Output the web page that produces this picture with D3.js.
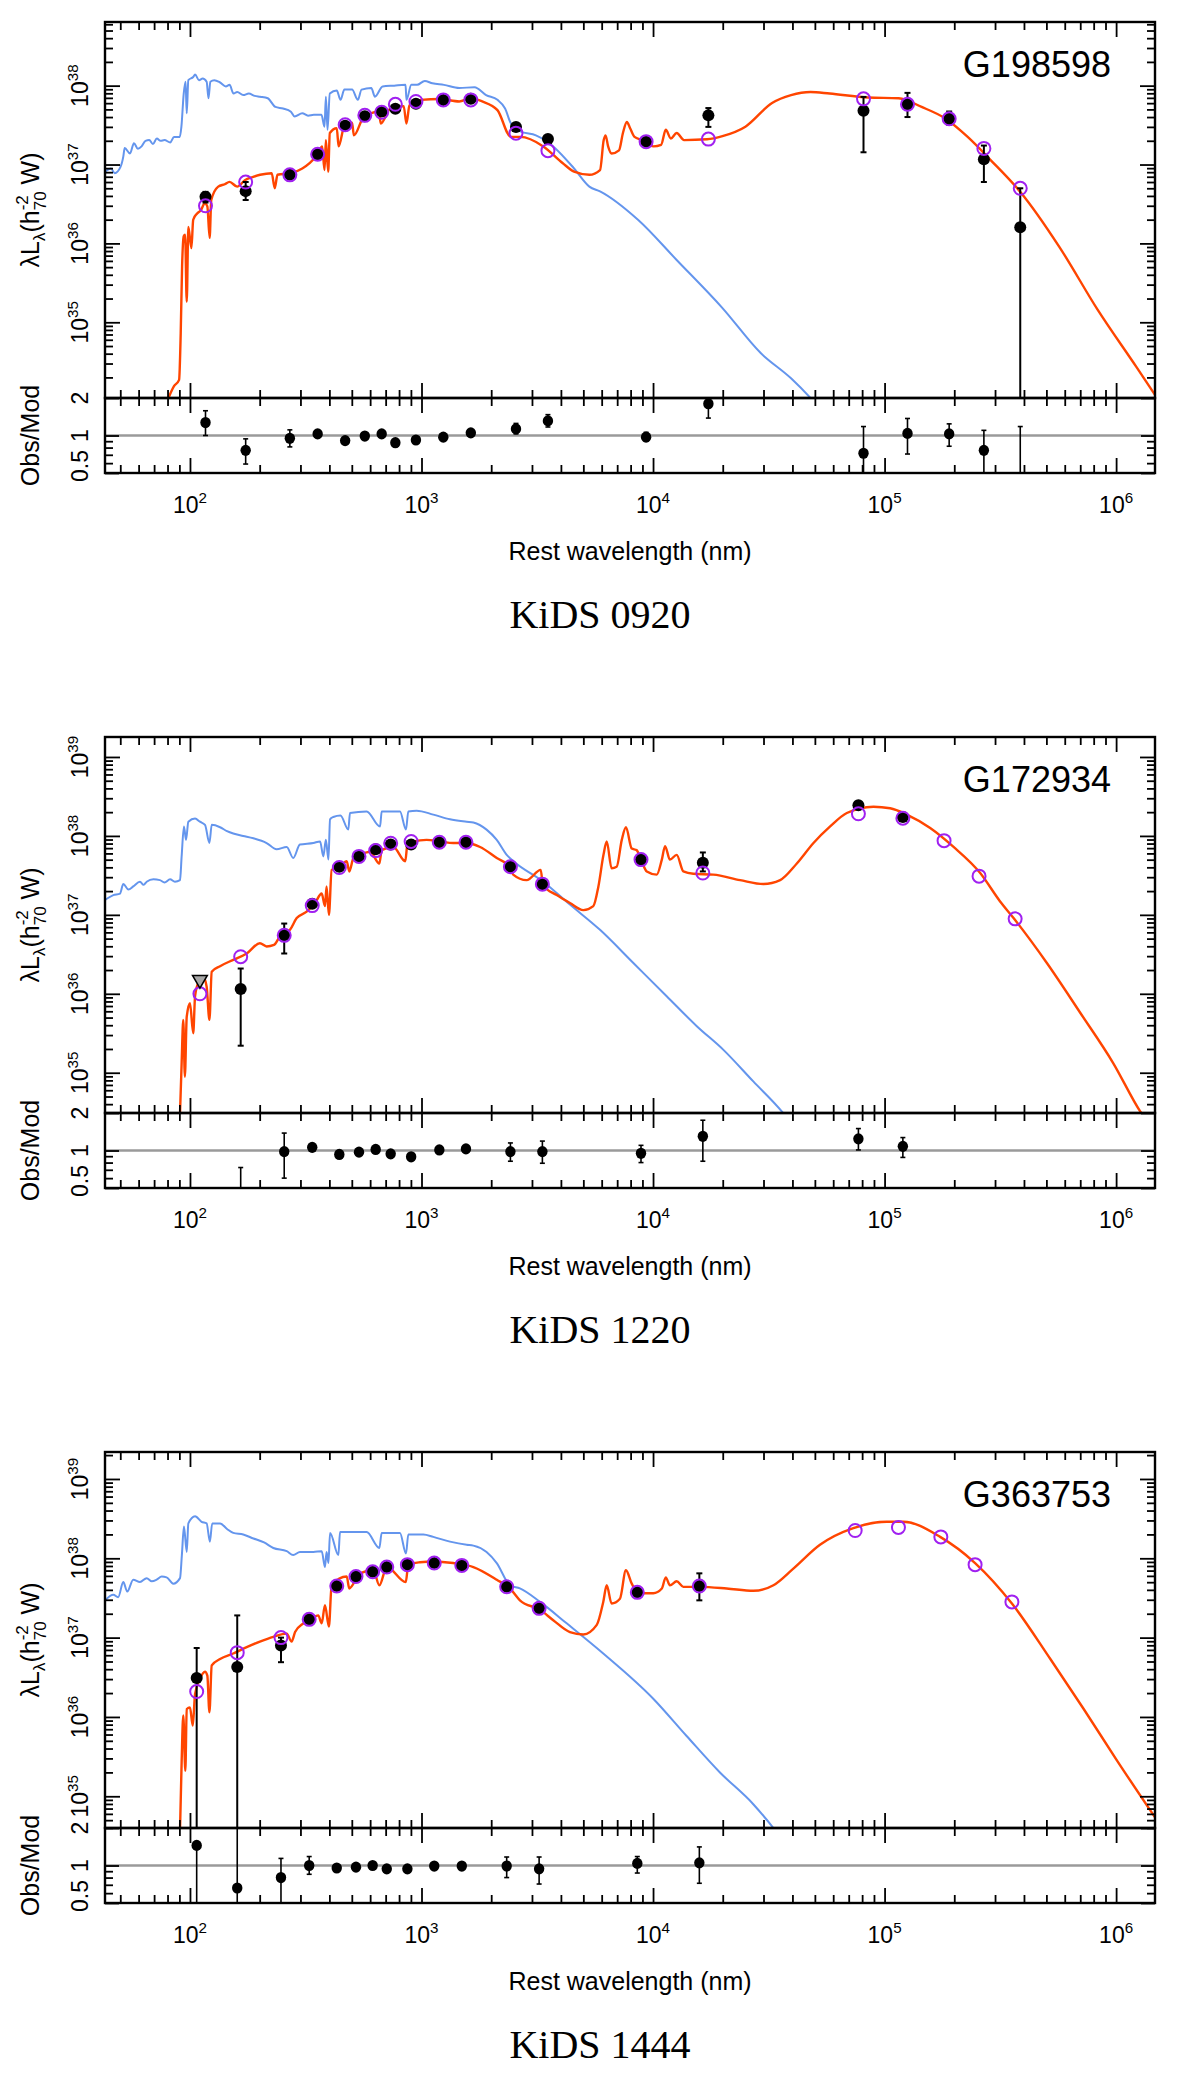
<!DOCTYPE html>
<html>
<head>
<meta charset="utf-8">
<script src="https://cdn.jsdelivr.net/npm/d3@7"></script>
<style>
  html, body { margin: 0; padding: 0; background: #fff; }
  svg { display: block; }
</style>
</head>
<body>
<svg id="chart" width="1200" height="2077"></svg>
<script>
// ------------------------------------------------------------------
// DATA
// ------------------------------------------------------------------
const galaxyIds    = ["G198598", "G172934", "G363753"];
const surveyLabels = ["KiDS 0920", "KiDS 1220", "KiDS 1444"];
const xTickExponents = [2, 3, 4, 5, 6];
const xAxisTitle = "Rest wavelength (nm)";
const ratioTitle = "Obs/Mod";
const ratioTickLabels = [[2, "2"], [1, "1"], [0.5, "0.5"]];

// Photometry: rest wavelength (nm); luminosities in units of 1e36 W (h70^-2)
// G198598
const g1Wave  = [116.7, 174, 270, 356, 468, 569, 673, 771, 946, 1242, 1633, 2559, 3516, 9333, 17340, 81100, 125600, 190100, 268500, 385500];
const g1Obs   = [3.9, 4.6, 7.4, 13.5, 31, 41, 47, 51, 59, 66, 68, 30, 21, 19.5, 42, 48, 58, 38, 11.7, 1.6];
const g1ObsErr = [[3.3,4.5],[3.55,6.0],null,null,null,null,null,null,null,null,null,null,null,null,[30,52],[14.3,72],[40,81],[32,47],[6.0,17.4],[0.001,5.0]];
const g1Model = [3.0, 6.0, 7.4, 13.5, 32, 42, 46, 58, 63, 66, 66, 25, 15, 19.5, 21, 68, 58, 38, 16, 5.0];
const g1Ratio = [1.27, 0.76, 0.95, 1.03, 0.91, 0.99, 1.03, 0.875, 0.92, 0.97, 1.05, 1.13, 1.31, 0.97, 1.8, 0.72, 1.04, 1.03, 0.76, 0.32];
const g1RatioErr = [[1.0,1.58],[0.59,0.94],[0.81,1.11],null,null,null,null,null,null,null,null,[1.03,1.25],[1.17,1.47],[0.9,1.06],[1.38,2.07],[0.1,1.18],[0.71,1.37],[0.82,1.24],[0.1,1.1],[0.1,1.18]];
const g1Upper = [];

// G172934
const g2Wave  = [110.4, 165.6, 255.3, 337.3, 441.6, 537, 634, 736, 902, 1194, 1556, 2421, 3327, 8872, 16410, 77090, 119950, 180700, 255900, 366400];
const g2Obs   = [null, 1.15, 5.5, 13.8, 40.7, 55, 67.6, 77.6, 77.6, 83.2, 83.2, 40.7, 24.5, 50.1, 45.7, 245, 174, null, null, null];
const g2ObsErr = [null,[0.22,2.09],[3.24,7.76],null,null,null,null,null,null,null,null,null,null,null,[35.5,61.7],[232,258],[165,183],null,null,null];
const g2Model = [1.0, 2.95, 5.5, 13.1, 39.8, 55, 65.2, 80.8, 85.1, 83.2, 83.2, 40.7, 24.5, 50.1, 33.9, 190.5, 167.5, 87.1, 30.9, 8.9];
const g2Ratio = [null, 0.39, 0.98, 1.06, 0.93, 0.97, 1.02, 0.94, 0.89, 1.01, 1.03, 0.98, 0.98, 0.95, 1.3, 1.24, 1.08, null, null, null];
const g2RatioErr = [null,[0.1,0.73],[0.6,1.38],null,null,null,null,null,null,null,null,[0.82,1.15],[0.79,1.19],[0.8,1.1],[0.82,1.75],[1.01,1.5],[0.88,1.27],null,null,null];
const g2Upper = [[110.4, 1.51]];

// G363753
const g3Wave  = [106.9, 160, 247.2, 327.3, 430.5, 521.2, 615.2, 707.9, 869, 1135, 1493, 2333, 3221, 8551, 15850, 74650, 114800, 175000, 246000, 354800];
const g3Obs   = [3.09, 4.27, 7.94, 17.0, 44.7, 58.9, 67.6, 77.6, 83.2, 87.1, 81.3, 43.7, 23.4, 37.2, 44.7, null, null, null, null, null];
const g3ObsErr = [[0.001,7.4],[0.001,19.05],[4.9,10.0],null,null,null,null,null,null,null,null,null,[21.4,25.5],null,[29.5,64.6],null,null,null,null,null];
const g3Model = [2.09, 6.46, 10.0, 17.0, 44.7, 58.9, 67.6, 77.6, 83.2, 87.1, 81.3, 43.7, 23.4, 37.2, 44.7, 224, 245, 186, 83.2, 28.2];
const g3Ratio = [1.45, 0.66, 0.8, 1.0, 0.955, 0.97, 1.0, 0.94, 0.94, 0.99, 0.99, 0.99, 0.94, 1.04, 1.05, null, null, null, null, null];
const g3RatioErr = [[0.1,1.5],[0.1,3],[0.5,1.14],[0.85,1.18],null,null,null,null,null,null,null,[0.8,1.17],[0.71,1.17],[0.87,1.18],[0.72,1.41],null,null,null,null,null];
const g3Upper = [];

// Model spectra as [log10(rest wavelength / nm), log10(lambda L_lambda / W)]
// unattenuated stellar (blue) and total attenuated + dust (red)
const g1StellarLog = [[1.634,36.91],[1.659,36.95],[1.675,36.89],[1.700,36.97],[1.712,37.10],[1.718,37.21],[1.741,37.14],[1.758,37.27],[1.775,37.20],[1.791,37.23],[1.808,37.30],[1.824,37.31],[1.840,37.26],[1.857,37.33],[1.873,37.30],[1.890,37.31],[1.915,37.28],[1.931,37.35],[1.956,37.35],[1.963,37.48],[1.973,37.90],[1.981,38.05],[1.986,37.65],[1.993,38.07],[2.014,38.11],[2.022,38.14],[2.039,38.07],[2.055,38.09],[2.072,38.05],[2.080,37.84],[2.088,38.05],[2.105,38.07],[2.130,38.04],[2.155,37.99],[2.171,38.01],[2.188,37.90],[2.204,37.92],[2.230,37.88],[2.254,37.90],[2.280,37.87],[2.303,37.86],[2.336,37.84],[2.369,37.73],[2.402,37.71],[2.436,37.67],[2.452,37.61],[2.485,37.65],[2.510,37.62],[2.535,37.63],[2.568,37.63],[2.581,37.48],[2.587,37.86],[2.594,37.44],[2.604,37.90],[2.634,37.94],[2.650,37.82],[2.667,37.95],[2.700,37.95],[2.725,37.82],[2.741,37.95],[2.783,37.97],[2.799,37.86],[2.832,37.99],[2.882,38.00],[2.931,38.01],[2.935,37.82],[2.956,38.01],[2.981,38.01],[3.014,38.06],[3.047,38.03],[3.097,38.01],[3.163,37.97],[3.229,37.98],[3.279,37.88],[3.328,37.82],[3.361,37.71],[3.386,37.52],[3.427,37.42],[3.494,37.37],[3.543,37.29],[3.576,37.21],[3.659,36.95],[3.725,36.72],[3.771,36.66],[3.935,36.30],[4.102,35.79],[4.300,35.18],[4.465,34.61],[4.596,34.29],[4.680,34.04],[4.750,33.80]];
const g1TotalLog = [[1.907,34.04],[1.931,34.19],[1.953,34.27],[1.960,34.86],[1.966,35.71],[1.973,36.09],[1.979,36.11],[1.986,35.26],[1.993,36.21],[2.006,35.94],[2.014,36.30],[2.031,36.38],[2.047,36.42],[2.064,36.51],[2.075,36.47],[2.085,36.07],[2.092,36.55],[2.122,36.72],[2.150,36.75],[2.171,36.78],[2.204,36.72],[2.237,36.80],[2.270,36.84],[2.303,36.87],[2.353,36.89],[2.366,36.70],[2.378,36.87],[2.436,36.89],[2.485,36.95],[2.518,37.02],[2.551,37.13],[2.571,37.23],[2.581,36.93],[2.587,37.31],[2.597,36.91],[2.604,37.40],[2.634,37.46],[2.642,37.23],[2.667,37.49],[2.700,37.53],[2.708,37.37],[2.750,37.60],[2.816,37.67],[2.824,37.52],[2.865,37.71],[2.923,37.74],[2.935,37.52],[2.948,37.75],[2.998,37.82],[3.080,37.83],[3.163,37.80],[3.212,37.84],[3.262,37.80],[3.328,37.69],[3.386,37.35],[3.427,37.35],[3.526,37.23],[3.609,37.02],[3.659,36.91],[3.725,36.87],[3.771,36.93],[3.787,37.31],[3.795,37.37],[3.806,37.23],[3.821,37.14],[3.853,37.18],[3.870,37.40],[3.887,37.54],[3.901,37.46],[3.920,37.35],[3.952,37.31],[4.002,37.23],[4.035,37.25],[4.055,37.44],[4.077,37.33],[4.102,37.40],[4.134,37.31],[4.233,37.32],[4.300,37.36],[4.399,37.48],[4.514,37.78],[4.596,37.88],[4.680,37.92],[4.763,37.90],[4.929,37.85],[5.061,37.84],[5.160,37.73],[5.259,37.59],[5.359,37.35],[5.457,37.06],[5.590,36.64],[5.754,35.96],[5.920,35.16],[6.086,34.44],[6.168,34.08]];

const g2StellarLog = [[1.633,37.19],[1.669,37.25],[1.698,37.27],[1.712,37.39],[1.734,37.32],[1.755,37.36],[1.784,37.42],[1.800,37.38],[1.813,37.42],[1.842,37.45],[1.870,37.44],[1.890,37.41],[1.914,37.45],[1.935,37.42],[1.957,37.44],[1.964,37.74],[1.974,38.12],[1.983,37.95],[1.993,38.18],[2.022,38.22],[2.043,38.18],[2.065,38.14],[2.084,37.91],[2.094,38.14],[2.130,38.11],[2.160,38.06],[2.187,38.03],[2.230,38.00],[2.274,37.97],[2.331,37.91],[2.374,37.83],[2.418,37.86],[2.446,37.72],[2.475,37.89],[2.533,37.91],[2.562,37.93],[2.576,37.74],[2.587,37.95],[2.598,37.70],[2.605,38.21],[2.619,38.24],[2.650,38.26],[2.684,38.08],[2.691,38.29],[2.763,38.31],[2.821,38.12],[2.828,38.31],[2.907,38.31],[2.933,38.08],[2.943,38.31],[2.979,38.32],[3.051,38.27],[3.123,38.21],[3.195,38.18],[3.224,38.17],[3.281,38.08],[3.325,37.95],[3.368,37.76],[3.397,37.68],[3.526,37.42],[3.641,37.13],[3.771,36.81],[3.915,36.39],[4.059,35.97],[4.189,35.59],[4.304,35.29],[4.433,34.89],[4.556,34.51],[4.600,34.35]];
const g2TotalLog = [[1.957,34.49],[1.964,35.12],[1.971,35.67],[1.978,34.95],[1.986,35.71],[2.000,35.88],[2.014,35.50],[2.022,35.97],[2.036,36.14],[2.058,36.21],[2.072,36.09],[2.084,35.67],[2.094,36.28],[2.130,36.35],[2.187,36.43],[2.245,36.51],[2.302,36.64],[2.331,36.60],[2.363,36.62],[2.389,36.73],[2.432,36.81],[2.461,36.96],[2.504,37.04],[2.540,37.15],[2.569,37.27],[2.583,37.11],[2.590,37.36],[2.600,37.00],[2.612,37.57],[2.648,37.61],[2.677,37.68],[2.688,37.55],[2.706,37.72],[2.734,37.76],[2.778,37.80],[2.818,37.65],[2.828,37.82],[2.878,37.86],[2.930,37.68],[2.939,37.89],[2.965,37.93],[3.022,37.95],[3.080,37.93],[3.137,37.91],[3.195,37.91],[3.253,37.86],[3.325,37.72],[3.382,37.61],[3.396,37.51],[3.454,37.44],[3.515,37.57],[3.524,37.38],[3.584,37.25],[3.641,37.15],[3.699,37.06],[3.742,37.11],[3.764,37.36],[3.786,37.76],[3.800,37.93],[3.821,37.59],[3.843,37.61],[3.865,37.95],[3.883,38.11],[3.908,37.84],[3.929,37.82],[3.948,37.70],[3.973,37.55],[4.016,37.51],[4.038,37.70],[4.052,37.87],[4.073,37.70],[4.102,37.76],[4.131,37.55],[4.174,37.52],[4.260,37.51],[4.376,37.44],[4.477,37.39],[4.549,37.44],[4.621,37.65],[4.693,37.91],[4.765,38.12],[4.837,38.29],[4.952,38.37],[5.024,38.35],[5.096,38.27],[5.197,38.10],[5.298,37.86],[5.413,37.53],[5.499,37.17],[5.557,36.96],[5.701,36.39],[5.845,35.76],[5.988,35.12],[6.104,34.51],[6.168,34.25]];

const g3StellarLog = [[1.633,37.47],[1.669,37.54],[1.690,37.51],[1.712,37.70],[1.729,37.58],[1.755,37.73],[1.784,37.70],[1.813,37.75],[1.835,37.71],[1.856,37.73],[1.878,37.77],[1.899,37.76],[1.928,37.68],[1.957,37.75],[1.965,38.04],[1.974,38.40],[1.986,38.08],[1.993,38.44],[2.022,38.53],[2.050,38.46],[2.072,38.44],[2.086,38.21],[2.096,38.44],[2.130,38.44],[2.160,38.37],[2.187,38.32],[2.230,38.30],[2.274,38.25],[2.320,38.20],[2.360,38.13],[2.418,38.09],[2.446,38.04],[2.475,38.08],[2.533,38.08],[2.569,38.09],[2.583,37.89],[2.590,38.08],[2.598,37.94],[2.605,38.32],[2.641,38.04],[2.648,38.33],[2.691,38.33],[2.763,38.33],[2.818,38.13],[2.828,38.32],[2.907,38.32],[2.933,38.06],[2.943,38.30],[3.008,38.30],[3.051,38.27],[3.123,38.21],[3.195,38.17],[3.224,38.16],[3.281,38.08],[3.325,37.94],[3.382,37.66],[3.425,37.62],[3.512,37.45],[3.627,37.18],[3.785,36.80],[4.001,36.23],[4.145,35.76],[4.289,35.30],[4.433,34.90],[4.520,34.60],[4.560,34.45]];
const g3TotalLog = [[1.957,34.58],[1.964,35.43],[1.971,36.02],[1.980,35.32],[1.986,36.10],[2.000,36.12],[2.012,35.89],[2.022,36.29],[2.043,36.48],[2.065,36.57],[2.075,36.52],[2.084,36.06],[2.094,36.65],[2.130,36.73],[2.187,36.80],[2.245,36.88],[2.302,36.95],[2.360,37.01],[2.418,37.05],[2.439,36.95],[2.454,37.07],[2.490,37.18],[2.526,37.24],[2.554,37.28],[2.569,37.18],[2.583,37.41],[2.600,37.14],[2.612,37.66],[2.677,37.77],[2.688,37.62],[2.734,37.81],[2.792,37.85],[2.818,37.66],[2.850,37.89],[2.932,37.70],[2.943,37.92],[2.994,37.95],[3.051,37.96],[3.137,37.94],[3.224,37.89],[3.325,37.73],[3.382,37.62],[3.425,37.47],[3.512,37.35],[3.569,37.22],[3.641,37.07],[3.699,37.04],[3.757,37.16],[3.785,37.45],[3.800,37.66],[3.821,37.43],[3.857,37.49],[3.883,37.85],[3.908,37.68],[3.937,37.56],[4.001,37.56],[4.038,37.62],[4.055,37.76],[4.073,37.66],[4.102,37.71],[4.131,37.64],[4.203,37.64],[4.318,37.62],[4.433,37.59],[4.520,37.66],[4.606,37.87],[4.721,38.17],[4.865,38.38],[5.009,38.46],[5.081,38.46],[5.240,38.27],[5.391,37.94],[5.550,37.43],[5.716,36.73],[5.860,36.10],[6.004,35.45],[6.169,34.73]];

// Axis ranges: log10 of the y-axis limits (W) for each panel, x limits (nm)
const yAxisLogLimits = [[34.04, 38.807], [34.49, 39.253], [34.60, 39.34]];
const xAxisLogLimits = [1.633, 6.168];
const ratioLimits = [0.5, 2];

// ------------------------------------------------------------------
// LAYOUT & STYLE
// ------------------------------------------------------------------
const L_UNIT = 1e36;
const layout = { left: 105, right: 1155, tops: [22, 737, 1452], mainH: 376, resH: 75 };
const col = { stellar: "#6495ED", total: "#FF4500", model: "#A020F0", ref: "#9a9a9a", upper: "#A8A8A8" };
const SANS = "'Liberation Sans', Arial, Helvetica, sans-serif";
const SERIF = "'Liberation Serif', 'Times New Roman', Times, serif";

const panels = [
  { id: galaxyIds[0], survey: surveyLabels[0], wave: g1Wave, obs: g1Obs, obsErr: g1ObsErr, model: g1Model, ratio: g1Ratio, ratioErr: g1RatioErr, upper: g1Upper, stellar: g1StellarLog, total: g1TotalLog, yLim: yAxisLogLimits[0] },
  { id: galaxyIds[1], survey: surveyLabels[1], wave: g2Wave, obs: g2Obs, obsErr: g2ObsErr, model: g2Model, ratio: g2Ratio, ratioErr: g2RatioErr, upper: g2Upper, stellar: g2StellarLog, total: g2TotalLog, yLim: yAxisLogLimits[1] },
  { id: galaxyIds[2], survey: surveyLabels[2], wave: g3Wave, obs: g3Obs, obsErr: g3ObsErr, model: g3Model, ratio: g3Ratio, ratioErr: g3RatioErr, upper: g3Upper, stellar: g3StellarLog, total: g3TotalLog, yLim: yAxisLogLimits[2] }
];

// ------------------------------------------------------------------
// DRAW
// ------------------------------------------------------------------
const svg = d3.select("#chart");
svg.append("rect").attr("width", 1200).attr("height", 2077).attr("fill", "#fff");
const defs = svg.append("defs");

const x = d3.scaleLog().domain([10 ** xAxisLogLimits[0], 10 ** xAxisLogLimits[1]]).range([layout.left, layout.right]);
const isPow10 = v => Math.abs(Math.log10(v) - Math.round(Math.log10(v))) < 1e-6;
const xAllTicks = x.ticks();
const xMajor = xAllTicks.filter(isPow10);
const xMinor = xAllTicks.filter(v => !isPow10(v));

function axisTicks(g, gen, scale, vals, len, transform) {
  const a = g.append("g").attr("transform", transform)
    .call(gen(scale).tickValues(vals).tickSize(len).tickFormat(""));
  a.select(".domain").remove();
  a.selectAll(".tick line").attr("stroke", "#000").attr("stroke-width", 1.8);
  return a;
}

function supLabel(g, tx, ty, rot, base, exp, size, anchor) {
  const t = g.append("text")
    .attr("transform", `translate(${tx},${ty})` + (rot ? ` rotate(${rot})` : ""))
    .attr("text-anchor", anchor || "middle")
    .attr("font-family", SANS).attr("font-size", size).attr("fill", "#000");
  t.append("tspan").text(base);
  if (exp !== null && exp !== undefined) {
    t.append("tspan").attr("font-size", size * 0.66).attr("dy", -size * 0.45).text(exp);
  }
  return t;
}

panels.forEach((p, i) => {
  const top = layout.tops[i];
  const div = top + layout.mainH;
  const bot = div + layout.resH;
  const L = layout.left, R = layout.right, Wd = R - L;

  const y = d3.scaleLog().domain([10 ** p.yLim[0], 10 ** p.yLim[1]]).range([div, top]);
  const yr = d3.scaleLog().domain(ratioLimits).range([bot, div]);

  defs.append("clipPath").attr("id", "cm" + i).append("rect").attr("x", L).attr("y", top).attr("width", Wd).attr("height", layout.mainH);
  defs.append("clipPath").attr("id", "cr" + i).append("rect").attr("x", L).attr("y", div).attr("width", Wd).attr("height", layout.resH);

  const g = svg.append("g");
  const main = g.append("g").attr("clip-path", `url(#cm${i})`);
  const res = g.append("g").attr("clip-path", `url(#cr${i})`);

  // model spectra
  const line = d3.line().curve(d3.curveMonotoneX).x(d => x(10 ** d[0])).y(d => y(10 ** d[1]));
  main.append("path").datum(p.stellar).attr("d", line).attr("fill", "none")
    .attr("stroke", col.stellar).attr("stroke-width", 2).attr("stroke-linejoin", "round");
  main.append("path").datum(p.total).attr("d", line).attr("fill", "none")
    .attr("stroke", col.total).attr("stroke-width", 2.4).attr("stroke-linejoin", "round");

  // observed points with error bars
  const idx = d3.range(p.wave.length);
  const obsIdx = idx.filter(j => p.obs[j] !== null);
  const errIdx = idx.filter(j => p.obsErr[j]);
  errIdx.forEach(j => {
    const xv = x(p.wave[j]);
    const y0 = y(Math.max(p.obsErr[j][0], 1e-6) * L_UNIT), y1 = y(p.obsErr[j][1] * L_UNIT);
    main.append("line").attr("x1", xv).attr("x2", xv).attr("y1", y0).attr("y2", y1).attr("stroke", "#000").attr("stroke-width", 2);
    [y0, y1].forEach(yy => main.append("line").attr("x1", xv - 3).attr("x2", xv + 3).attr("y1", yy).attr("y2", yy).attr("stroke", "#000").attr("stroke-width", 2));
  });
  main.selectAll(".obs").data(obsIdx).join("circle").attr("class", "obs")
    .attr("cx", j => x(p.wave[j])).attr("cy", j => y(p.obs[j] * L_UNIT)).attr("r", 6).attr("fill", "#000");
  // model photometry
  main.selectAll(".mod").data(idx.filter(j => p.model[j] !== null)).join("circle").attr("class", "mod")
    .attr("cx", j => x(p.wave[j])).attr("cy", j => y(p.model[j] * L_UNIT)).attr("r", 6.5)
    .attr("fill", "none").attr("stroke", col.model).attr("stroke-width", 2);
  // upper limits
  main.selectAll(".upl").data(p.upper).join("path").attr("class", "upl")
    .attr("d", d3.symbol(d3.symbolTriangle, 95))
    .attr("transform", d => `translate(${x(d[0])},${y(d[1] * L_UNIT)}) rotate(180)`)
    .attr("fill", col.upper).attr("stroke", "#000").attr("stroke-width", 1.5);

  // residual panel
  res.append("line").attr("x1", L).attr("x2", R).attr("y1", yr(1)).attr("y2", yr(1))
    .attr("stroke", col.ref).attr("stroke-width", 2.5);
  idx.filter(j => p.ratioErr[j]).forEach(j => {
    const xv = x(p.wave[j]);
    const y0 = yr(p.ratioErr[j][0]), y1 = yr(p.ratioErr[j][1]);
    res.append("line").attr("x1", xv).attr("x2", xv).attr("y1", y0).attr("y2", y1).attr("stroke", "#000").attr("stroke-width", 1.6);
    [y0, y1].forEach(yy => res.append("line").attr("x1", xv - 2.5).attr("x2", xv + 2.5).attr("y1", yy).attr("y2", yy).attr("stroke", "#000").attr("stroke-width", 1.6));
  });
  res.selectAll(".rat").data(idx.filter(j => p.ratio[j] !== null)).join("ellipse").attr("class", "rat")
    .attr("cx", j => x(p.wave[j])).attr("cy", j => yr(p.ratio[j])).attr("rx", 5.2).attr("ry", 5.6).attr("fill", "#000");

  // frames
  g.append("rect").attr("x", L).attr("y", top).attr("width", Wd).attr("height", layout.mainH)
    .attr("fill", "none").attr("stroke", "#000").attr("stroke-width", 2.4);
  g.append("rect").attr("x", L).attr("y", div).attr("width", Wd).attr("height", layout.resH)
    .attr("fill", "none").attr("stroke", "#000").attr("stroke-width", 2.4);

  // x ticks (inward) on all four horizontal edges
  [[d3.axisBottom, top], [d3.axisTop, div], [d3.axisBottom, div], [d3.axisTop, bot]].forEach(([gen, yy]) => {
    axisTicks(g, gen, x, xMajor, 15, `translate(0,${yy})`);
    axisTicks(g, gen, x, xMinor, 8, `translate(0,${yy})`);
  });

  // y ticks main panel
  const yAll = y.ticks();
  const yMajor = yAll.filter(isPow10), yMinor = yAll.filter(v => !isPow10(v));
  axisTicks(g, d3.axisRight, y, yMajor, 15, `translate(${L},0)`);
  axisTicks(g, d3.axisRight, y, yMinor, 8, `translate(${L},0)`);
  axisTicks(g, d3.axisLeft, y, yMajor, 15, `translate(${R},0)`);
  axisTicks(g, d3.axisLeft, y, yMinor, 8, `translate(${R},0)`);

  // y ticks residual panel
  const rAll = yr.ticks();
  const rMajor = ratioTickLabels.map(d => d[0]);
  const rMinor = rAll.filter(v => !rMajor.some(m => Math.abs(m - v) < 1e-9));
  axisTicks(g, d3.axisRight, yr, rMajor, 14, `translate(${L},0)`);
  axisTicks(g, d3.axisRight, yr, rMinor, 8, `translate(${L},0)`);
  axisTicks(g, d3.axisLeft, yr, rMajor, 14, `translate(${R},0)`);
  axisTicks(g, d3.axisLeft, yr, rMinor, 8, `translate(${R},0)`);

  // y tick labels (rotated)
  yMajor.forEach(v => {
    supLabel(g, 88, y(v), -90, "10", String(Math.round(Math.log10(v))), 23);
  });
  ratioTickLabels.forEach(([v, s]) => {
    const yy = v === ratioLimits[0] ? yr(v) - 7 : yr(v);
    supLabel(g, 88, yy, -90, s, null, 23);
  });

  // x tick labels
  xTickExponents.forEach(e => {
    supLabel(g, x(10 ** e), bot + 40, 0, "10", String(e), 23);
  });

  // axis titles
  const yl = g.append("text").attr("transform", `translate(39,${(top + div) / 2}) rotate(-90)`)
    .attr("text-anchor", "middle").attr("font-family", SANS).attr("font-size", 25).attr("fill", "#000");
  yl.append("tspan").text("λL");
  yl.append("tspan").attr("font-size", 17).attr("dy", 6).text("λ");
  yl.append("tspan").attr("dy", -6).text("(h");
  yl.append("tspan").attr("font-size", 17).attr("dy", -11).text("-2");
  yl.append("tspan").attr("font-size", 17).attr("dx", -15.1).attr("dy", 18).text("70");
  yl.append("tspan").attr("dy", -7).text(" W)");

  g.append("text").attr("transform", `translate(39,${(div + bot) / 2}) rotate(-90)`)
    .attr("text-anchor", "middle").attr("font-family", SANS).attr("font-size", 25).text(ratioTitle);

  g.append("text").attr("x", (L + R) / 2).attr("y", bot + 87).attr("text-anchor", "middle")
    .attr("font-family", SANS).attr("font-size", 25).text(xAxisTitle);

  // galaxy id
  g.append("text").attr("x", 1111).attr("y", top + 55).attr("text-anchor", "end")
    .attr("font-family", SANS).attr("font-size", 36).text(p.id);

  // survey caption
  g.append("text").attr("x", 600).attr("y", bot + 155).attr("text-anchor", "middle")
    .attr("font-family", SERIF).attr("font-size", 40).text(p.survey);
});
</script>
</body>
</html>
